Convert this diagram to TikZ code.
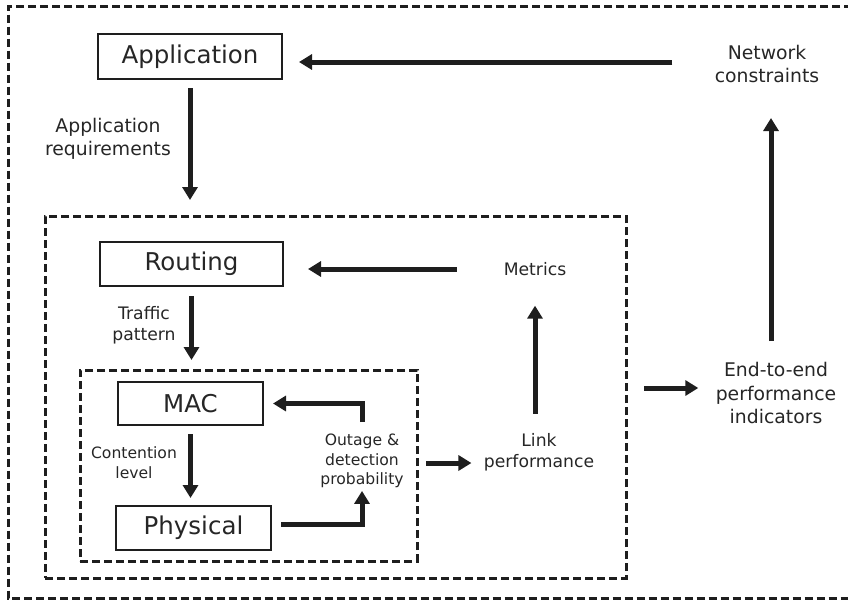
\documentclass[tikz,border=0pt]{standalone}
\usepackage{fontspec}
\setmainfont{DejaVu Sans}
\usetikzlibrary{arrows.meta,calc}
\definecolor{ink}{HTML}{1E1E1E}
\definecolor{inktext}{HTML}{262626}
\begin{document}
\begin{tikzpicture}[x=1pt,y=-1pt,
  every node/.style={outer sep=0pt, text=inktext},
  layer/.style={draw=ink, line width=2.8pt, inner sep=0pt,
    font=\fontsize{24.5}{29}\selectfont},
  grp/.style={draw=ink, line width=3pt, dash pattern=on 8pt off 4pt},
  lblL/.style={align=center, inner sep=0pt, font=\fontsize{18.8}{23.5}\selectfont},
  lblM/.style={align=center, inner sep=0pt, font=\fontsize{17.2}{21}\selectfont},
  lblS/.style={align=center, inner sep=0pt, font=\fontsize{15.6}{19.5}\selectfont},
  flow/.style={draw=ink, line width=5pt, -{Triangle[length=13pt,width=15pt]}}]
\useasboundingbox (0,0) rectangle (848,600);

% outer frame (open on the right)
\draw[grp] (852,6.5) -- (8,6.5) -- (8,598) -- (852,598);

% nested groups
\node[grp, minimum width=581pt, minimum height=362pt, inner sep=0pt] (netlayer) at (335.5,397) {};
\node[grp, minimum width=337pt, minimum height=191pt, inner sep=0pt] (linklayer) at (248.5,465.5) {};

% layers
\node[layer, minimum width=184pt, minimum height=45pt] (app) at (190,56.5) {Application};
\node[layer, minimum width=183pt, minimum height=44pt] (routing) at (191.5,264) {Routing};
\node[layer, minimum width=145pt, minimum height=43pt] (mac) at (190.5,403.5) {MAC};
\node[layer, minimum width=155pt, minimum height=44pt] (phys) at (193.5,528) {Physical};

% labels
\node[lblL] (appreq) at (108,139) {Application\\requirements};
\node[lblL] (netc) at (767,64) {Network\\constraints};
\node[lblL] (e2e) at (776,393) {End-to-end\\performance\\indicators};
\node[lblM] (metrics) at (535,269) {Metrics};
\node[lblM] (linkp) at (539,452) {Link\\performance};
\node[lblM] (traffic) at (144,325.5) {Traffic\\pattern};
\node[lblS] (contention) at (134,462.5) {Contention\\level};
\node[lblS] (outage) at (362,461) {Outage \&\\detection\\probability};

% connectors
\draw[flow, shorten <=42.5pt, shorten >=17pt]
  ($(netc.west)+(0,-2)$) -- ($(netc.west -| app.east)+(0,-2)$);
\draw[flow, shorten <=9pt, shorten >=16pt] (app.south) -- (app.south |- netlayer.north);
\draw[flow, shorten <=47pt, shorten >=25pt] (metrics.west) -- (metrics.west -| routing.east);
\draw[flow, shorten <=10pt, shorten >=10pt] (routing.south) -- (routing.south |- linklayer.north);
\draw[flow, shorten <=19.5pt, shorten >=30pt] (metrics.south |- linkp.north) -- (metrics.south);
\draw[flow, shorten <=9pt, shorten >=12.5pt]
  ($(linklayer.east |- linkp.west)+(0,11)$) -- ($(linkp.west)+(0,11)$);
\draw[flow, shorten <=18pt, shorten >=17.5pt]
  ($(netlayer.east |- e2e.west)+(0,-5)$) -- ($(e2e.west)+(0,-5)$);
\draw[flow, shorten <=21pt, shorten >=35pt]
  ($(e2e.north)+(-5,0)$) -- ($(e2e.north |- netc.south)+(-5,0)$);
\draw[flow, shorten <=9pt, shorten >=8pt] (mac.south) -- (mac.south |- phys.north);
\draw[flow, shorten <=12pt, shorten >=10pt] (outage.north) |- (mac.east);
\draw[flow, shorten <=10pt, shorten >=3pt] ($(phys.east)+(0,-4)$) -| (outage.south);
\end{tikzpicture}
\end{document}
